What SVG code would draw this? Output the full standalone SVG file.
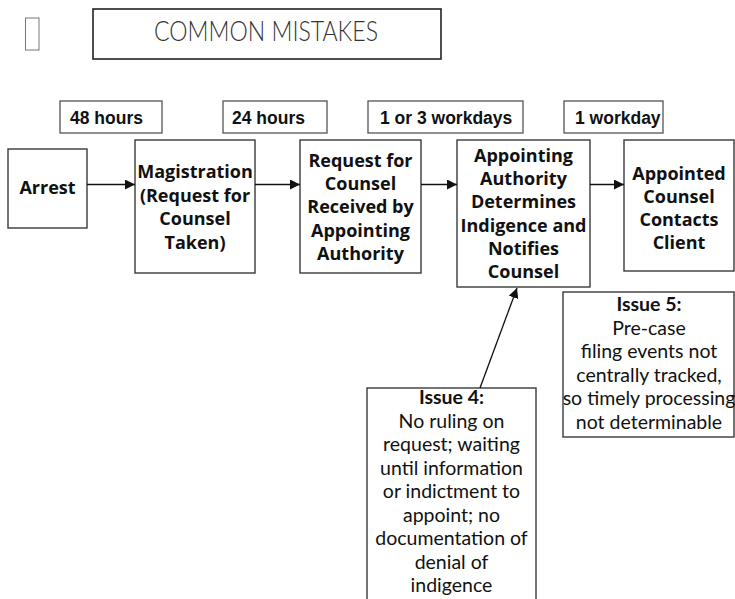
<svg xmlns="http://www.w3.org/2000/svg" width="735" height="599" viewBox="0 0 735 599">
  <style>
    .box { fill: #ffffff; stroke: #3a3a3a; stroke-width: 1.4; }
    .dur { fill: #ffffff; stroke: #555555; stroke-width: 1.3; }
    .node { font-family: "Open Sans", "Liberation Sans", sans-serif; font-weight: bold; font-size: 18px; fill: #111111; text-anchor: middle; }
    .dtxt { font-family: "Liberation Sans", Arial, sans-serif; font-weight: bold; font-size: 17.5px; fill: #111111; }
    .issue { font-family: Lato, "Open Sans", sans-serif; font-size: 19.5px; fill: #111111; text-anchor: middle; }
    .issue .hd { font-weight: bold; }
    .title { font-family: Lato, "Open Sans", sans-serif; font-weight: 300; font-size: 27px; fill: #333333; text-anchor: middle; }
    .conn { stroke: #111111; stroke-width: 1.3; fill: none; }
  </style>
  <defs>
    <marker id="arrow" viewBox="0 0 10 10" refX="10" refY="5" markerWidth="10" markerHeight="10" markerUnits="userSpaceOnUse" orient="auto">
      <path d="M0,0 L10,5 L0,10 Z" fill="#111111"/>
    </marker>
  </defs>

  <rect x="0" y="0" width="735" height="599" fill="#ffffff"/>

  <!-- heading -->
  <g id="heading">
    <rect x="25.5" y="18" width="13.5" height="32" fill="none" stroke="#777777" stroke-width="1"/>
    <rect x="93" y="9" width="348" height="50" fill="#ffffff" stroke="#222222" stroke-width="1.6"/>
    <text class="title" x="266" y="40.5" textLength="224" lengthAdjust="spacingAndGlyphs">COMMON MISTAKES</text>
  </g>

  <!-- time limits -->
  <g id="dur-48h">
    <rect class="dur" x="60" y="101" width="102" height="32"/>
    <text class="dtxt" x="70" y="124">48 hours</text>
  </g>
  <g id="dur-24h">
    <rect class="dur" x="223" y="101" width="104" height="32"/>
    <text class="dtxt" x="232" y="124">24 hours</text>
  </g>
  <g id="dur-1or3">
    <rect class="dur" x="368" y="101" width="155" height="32"/>
    <text class="dtxt" x="380" y="124">1 or 3 workdays</text>
  </g>
  <g id="dur-1">
    <rect class="dur" x="564" y="101" width="99" height="32"/>
    <text class="dtxt" x="575" y="124">1 workday</text>
  </g>

  <!-- process steps -->
  <g id="arrest">
    <rect class="box" x="8" y="149" width="79" height="79"/>
    <text class="node" x="47.5" y="194">Arrest</text>
  </g>
  <g id="magistration">
    <rect class="box" x="135" y="140" width="120" height="133"/>
    <text class="node" x="195" y="178">Magistration</text>
    <text class="node" x="195" y="201.5">(Request for</text>
    <text class="node" x="195" y="225">Counsel</text>
    <text class="node" x="195" y="248.5">Taken)</text>
  </g>
  <g id="request-received">
    <rect class="box" x="300" y="140" width="121" height="133"/>
    <text class="node" x="360.5" y="166.5">Request for</text>
    <text class="node" x="360.5" y="190">Counsel</text>
    <text class="node" x="360.5" y="213">Received by</text>
    <text class="node" x="360.5" y="236.5">Appointing</text>
    <text class="node" x="360.5" y="260">Authority</text>
  </g>
  <g id="authority-determines">
    <rect class="box" x="457" y="140" width="133" height="147"/>
    <text class="node" x="523.5" y="161.5">Appointing</text>
    <text class="node" x="523.5" y="184.5">Authority</text>
    <text class="node" x="523.5" y="208">Determines</text>
    <text class="node" x="523.5" y="231.5">Indigence and</text>
    <text class="node" x="523.5" y="255">Notifies</text>
    <text class="node" x="523.5" y="278">Counsel</text>
  </g>
  <g id="counsel-contacts">
    <rect class="box" x="624" y="140" width="110" height="131"/>
    <text class="node" x="679" y="179.5">Appointed</text>
    <text class="node" x="679" y="202.5">Counsel</text>
    <text class="node" x="679" y="225.5">Contacts</text>
    <text class="node" x="679" y="248.5">Client</text>
  </g>

  <!-- issues -->
  <g id="issue-5">
    <rect class="box" x="563" y="292" width="171" height="145"/>
    <text class="issue" x="649" y="311"><tspan class="hd">Issue 5:</tspan></text>
    <text class="issue" x="649" y="334.5">Pre-case</text>
    <text class="issue" x="649" y="358">filing events not</text>
    <text class="issue" x="649" y="381.5">centrally tracked,</text>
    <text class="issue" x="649" y="405">so timely processing</text>
    <text class="issue" x="649" y="428.5">not determinable</text>
  </g>
  <g id="issue-4">
    <rect class="box" x="367" y="388" width="169" height="230"/>
    <text class="issue" x="451.5" y="404"><tspan class="hd">Issue 4:</tspan></text>
    <text class="issue" x="451.5" y="427.5">No ruling on</text>
    <text class="issue" x="451.5" y="451">request; waiting</text>
    <text class="issue" x="451.5" y="474.5">until information</text>
    <text class="issue" x="451.5" y="498">or indictment to</text>
    <text class="issue" x="451.5" y="521.5">appoint; no</text>
    <text class="issue" x="451.5" y="545">documentation of</text>
    <text class="issue" x="451.5" y="568.5">denial of</text>
    <text class="issue" x="451.5" y="592">indigence</text>
  </g>

  <!-- connectors -->
  <g id="connectors">
    <line class="conn" x1="87" y1="184.5" x2="135" y2="184.5" marker-end="url(#arrow)"/>
    <line class="conn" x1="255" y1="184.5" x2="300" y2="184.5" marker-end="url(#arrow)"/>
    <line class="conn" x1="421" y1="184.5" x2="457" y2="184.5" marker-end="url(#arrow)"/>
    <line class="conn" x1="590" y1="184.5" x2="624" y2="184.5" marker-end="url(#arrow)"/>
    <line class="conn" x1="480" y1="388" x2="517" y2="288" marker-end="url(#arrow)"/>
  </g>
</svg>
